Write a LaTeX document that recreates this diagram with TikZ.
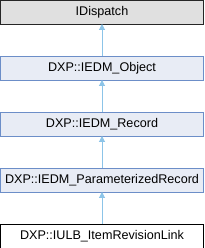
\documentclass[tikz,border=0pt]{standalone}
\usepackage{fontspec}
\setmainfont{Liberation Sans}
\usetikzlibrary{positioning,arrows.meta}
\definecolor{BoxGray}{HTML}{E0E0E0}
\definecolor{BoxBlue}{HTML}{E8ECF5}
\definecolor{EdgeBlue}{HTML}{6C8EC8}
\definecolor{ArrowBlue}{HTML}{8CC4E8}

\begin{document}
\begin{tikzpicture}[
  cls/.style={rectangle, draw=EdgeBlue, fill=BoxBlue, minimum width=203pt, minimum height=23.5pt, inner sep=0pt, font=\fontsize{12.6}{15}\selectfont},
  ext/.style={cls, draw=black!85, fill=BoxGray},
  self/.style={cls, draw=black, fill=white},
  inh/.style={draw=ArrowBlue, line width=0.9pt, -{Triangle[length=6pt, width=6pt]}}
]
\useasboundingbox (0,0) rectangle (204pt,-248pt);

% Base classes, top down
\node[ext] (dispatch) at (102pt,-12pt) {IDispatch};
\node[cls] (object) at (102pt,-68pt) {DXP::IEDM\_Object};
\node[cls] (record) at (102pt,-124pt) {DXP::IEDM\_Record};
\node[cls] (paramrec) at (102pt,-180pt) {DXP::IEDM\_ParameterizedRecord};

% This class
\node[self] (revlink) at (102pt,-236pt) {DXP::IULB\_ItemRevisionLink};

% Inheritance
\draw[inh] (object) -- (dispatch);
\draw[inh] (record) -- (object);
\draw[inh] (paramrec) -- (record);
\draw[inh] (revlink) -- (paramrec);
\end{tikzpicture}
\end{document}
